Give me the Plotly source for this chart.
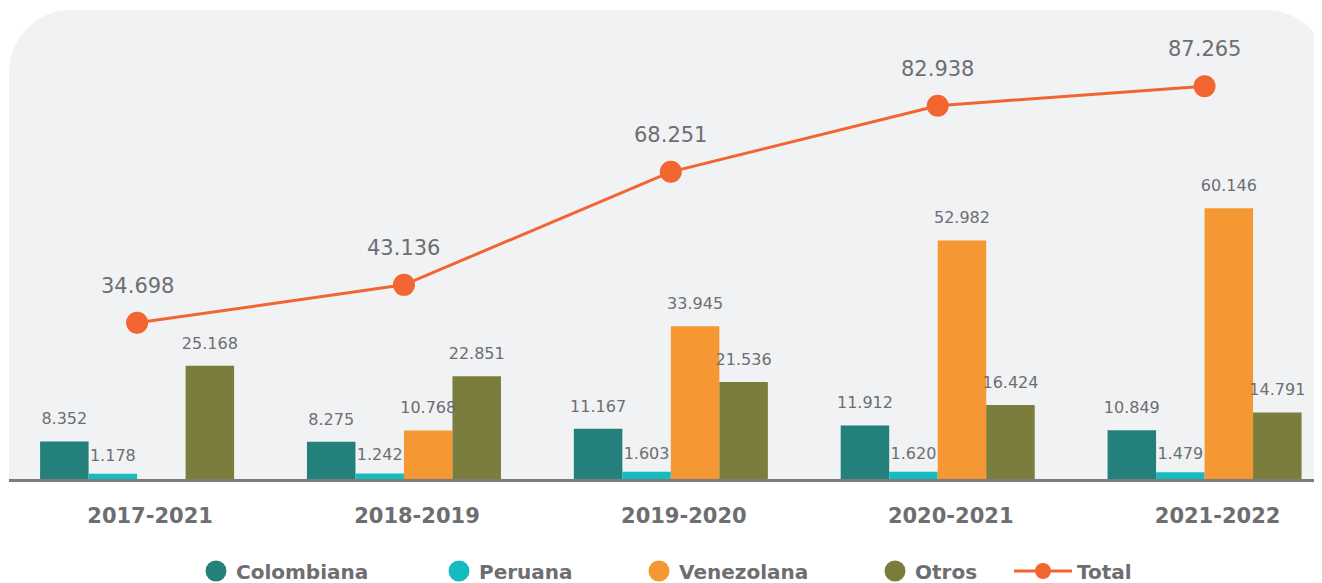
import plotly.graph_objects as go

periods = ["2017-2021", "2018-2019", "2019-2020", "2020-2021", "2021-2022"]
colombiana = [8352, 8275, 11167, 11912, 10849]
peruana = [1178, 1242, 1603, 1620, 1479]
venezolana = [None, 10768, 33945, 52982, 60146]
otros = [25168, 22851, 21536, 16424, 14791]
total = [34698, 43136, 68251, 82938, 87265]

series_names = ["Colombiana", "Peruana", "Venezolana", "Otros"]
series_values = [colombiana, peruana, venezolana, otros]
series_colors = ["#23807a", "#14bcbf", "#f59733", "#7a7d3c"]
total_color = "#f26531"
text_gray = "#6d6e71"
FONT = "DejaVu Sans"

fig = go.Figure()

# bars
for name, vals, col in zip(series_names, series_values, series_colors):
    fig.add_trace(go.Bar(x=periods, y=vals, name=name, marker=dict(color=col, line=dict(width=0)),
                         showlegend=False, hoverinfo="skip"))

# value labels (grouped scatter so they sit over their bars)
label_sizes = [19.5, 13, 19.5, 19.5]
for name, vals, sz in zip(series_names, series_values, label_sizes):
    fig.add_trace(go.Scatter(x=periods, y=vals, mode="markers+text", texttemplate="%{y:,}",
                             textposition="top center",
                             textfont=dict(family=FONT, size=16, color=text_gray),
                             marker=dict(size=sz, color="rgba(0,0,0,0)"),
                             alignmentgroup="labels", offsetgroup=name,
                             showlegend=False, hoverinfo="skip", cliponaxis=False))

# total line
fig.add_trace(go.Scatter(x=periods, y=total, mode="lines+markers", name="Total",
                         line=dict(color=total_color, width=3),
                         marker=dict(color=total_color, size=22),
                         alignmentgroup="total", offsetgroup="total",
                         legend="legend5", hoverinfo="skip", cliponaxis=False))

for p, v in zip(periods, total):
    fig.add_annotation(x=p, y=v, text=f"{v:,}".replace(",", "."), showarrow=False, yshift=37,
                       font=dict(family=FONT, size=21, color=text_gray))

# legend entries (circles)
legend_ids = ["legend", "legend2", "legend3", "legend4"]
for name, col, lg in zip(series_names, series_colors, legend_ids):
    fig.add_trace(go.Scatter(x=[None], y=[None], mode="markers", name=name,
                             marker=dict(color=col, size=16, line=dict(color=col, width=5)),
                             alignmentgroup="dummy", offsetgroup="dummy",
                             legend=lg, hoverinfo="skip"))

OFF = 8  # page body margin
W, H = 1322 - OFF, 583 - OFF
PL, PT = 9 - OFF, 10 - OFF
PB = 479 - OFF
PW = W - PL
PH = PB - PT


def px(x):
    return (x - OFF - PL) / PW


def py(y):
    return (PB - (y - OFF)) / PH


# rounded background panel (page-pixel geometry)
k = 0.5523
rl, rr = 62, 65
xl, yt, yb, xr = 9, 10, 479, 1330
path = (f"M {px(xl)},{py(yb)} L {px(xl)},{py(yt + rl)} "
        f"C {px(xl)},{py(yt + rl - rl * k)} {px(xl + rl - rl * k)},{py(yt)} {px(xl + rl)},{py(yt)} "
        f"L {px(xr - rr)},{py(yt)} "
        f"C {px(xr - rr + rr * k)},{py(yt)} {px(xr)},{py(yt + rr - rr * k)} {px(xr)},{py(yt + rr)} "
        f"L {px(xr)},{py(yb)} Z")
fig.add_shape(type="path", path=path, xref="paper", yref="paper", layer="below",
              fillcolor="#f1f2f4", line=dict(width=0))

leg_common = dict(orientation="h", yanchor="middle", y=py(571), xanchor="left",
                  font=dict(family=FONT, size=20, color=text_gray, weight="bold"),
                  bgcolor="rgba(0,0,0,0)", borderwidth=0)
legend_x = [196, 439, 639, 875]
layout_legends = {}
for lg, lx in zip(legend_ids, legend_x):
    layout_legends[lg] = dict(x=px(lx), **leg_common)
layout_legends["legend5"] = dict(x=px(1009), itemwidth=58, **leg_common)

fig.update_layout(
    width=W, height=H,
    margin=dict(l=PL, r=0, t=PT, b=H - PB, autoexpand=False),
    paper_bgcolor="white", plot_bgcolor="rgba(0,0,0,0)",
    barmode="group", bargap=0.273, bargroupgap=0,
    scattermode="group", scattergap=0.273,
    separators=",.",
    xaxis=dict(type="category", range=[-0.48, 4.44], showgrid=False, zeroline=False,
               showline=True, linecolor="#7d7d7d", linewidth=3,
               ticks="", ticklabelstandoff=16, ticklabelshift=13,
               tickfont=dict(family=FONT, size=21, color=text_gray, weight="bold")),
    yaxis=dict(range=[0, 104200], visible=False, showgrid=False, zeroline=False),
    **layout_legends,
)

fig.write_html("out.html")
